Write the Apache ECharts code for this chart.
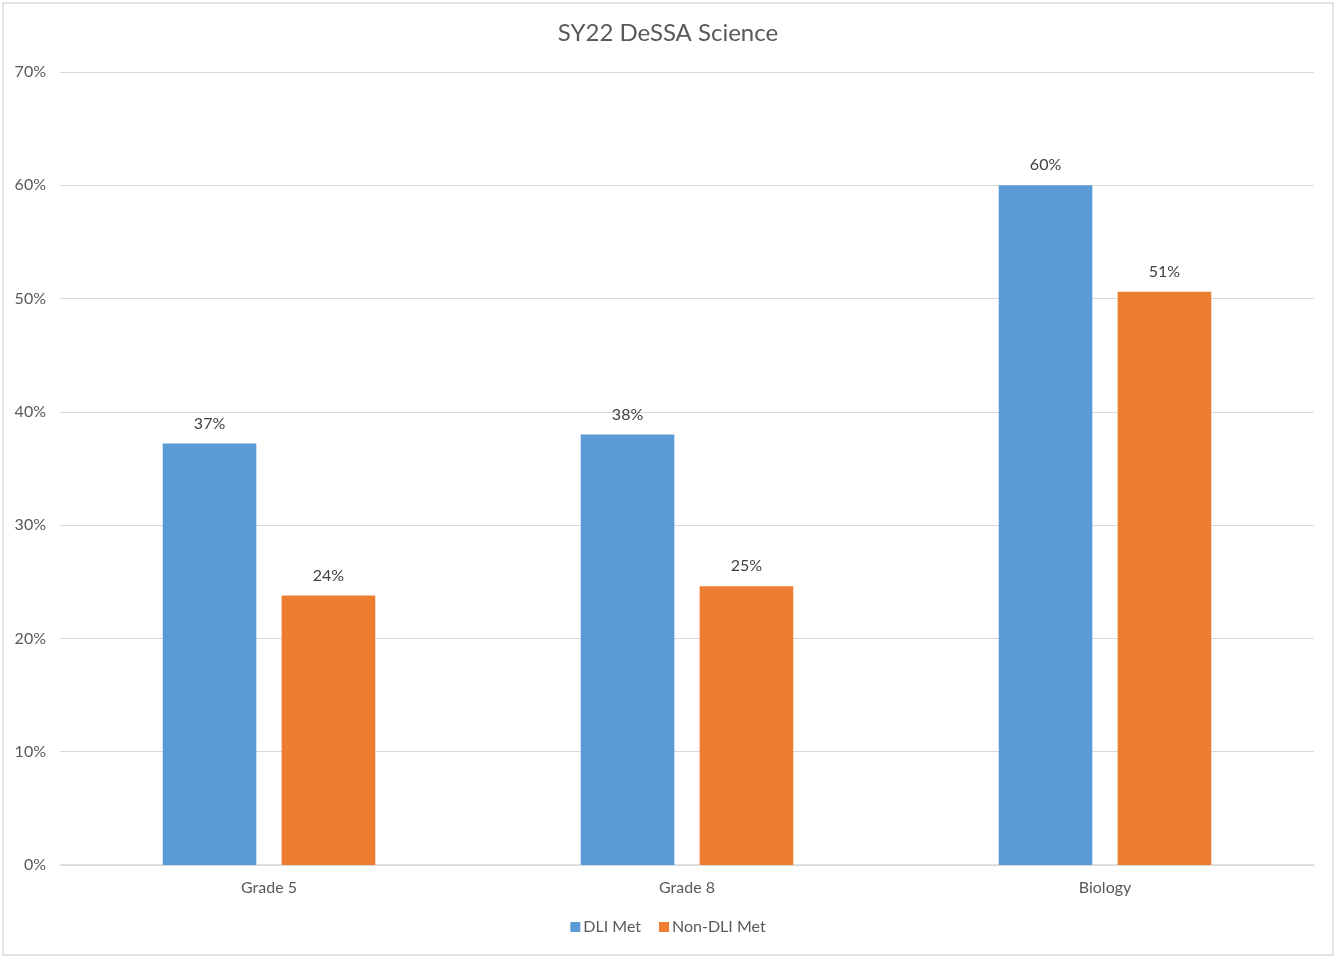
<!DOCTYPE html>
<html>
<head>
<meta charset="utf-8">
<script src="https://cdn.jsdelivr.net/npm/echarts@6/dist/echarts.min.js"></script>
<style>
html,body{margin:0;padding:0;background:#fff;}
#chart{width:1336px;height:958px;}
</style>
</head>
<body>
<div id="chart"></div>
<script>
const categories = ['Grade 5', 'Grade 8', 'Biology'];
const dliMet = [37.2, 38.0, 60.0];
const nonDliMet = [23.8, 24.6, 50.6];
const yTicks = [0, 10, 20, 30, 40, 50, 60, 70];

const FONT = 'Lato, "Open Sans", sans-serif';
const chart = echarts.init(document.getElementById('chart'));
const labelCfg = {
  show: true,
  position: 'top',
  distance: 12,
  color: '#404040',
  fontSize: 16,
  fontFamily: FONT,
  formatter: p => Math.round(p.value) + '%'
};
chart.setOption({
  animation: false,
  backgroundColor: '#fff',
  title: {
    text: 'SY22 DeSSA Science',
    left: 'center',
    top: 16,
    textStyle: { color: '#595959', fontSize: 24, fontWeight: 'normal', fontFamily: FONT }
  },
  graphic: [{
    type: 'rect',
    shape: { x: 3, y: 3, width: 1330, height: 952 },
    style: { fill: 'none', stroke: '#d9d9d9', lineWidth: 1.5 },
    silent: true
  }],
  legend: {
    bottom: 18,
    left: 'center',
    itemWidth: 10,
    itemHeight: 10,
    itemGap: 18,
    icon: 'rect',
    textStyle: { color: '#595959', fontSize: 16, fontFamily: FONT, padding: [0, 0, 0, -2] },
    data: ['DLI Met', 'Non-DLI Met']
  },
  grid: { left: 60, right: 22, top: 72, bottom: 93, containLabel: false },
  xAxis: {
    type: 'category',
    data: categories,
    axisLine: { show: true, lineStyle: { color: '#d9d9d9', width: 1.5 } },
    axisTick: { show: false },
    axisLabel: { color: '#595959', fontSize: 16, fontFamily: FONT, margin: 15 }
  },
  yAxis: {
    type: 'value',
    min: yTicks[0],
    max: yTicks[yTicks.length - 1],
    interval: 10,
    axisLine: { show: false },
    axisTick: { show: false },
    splitLine: { lineStyle: { color: '#d9d9d9', width: 1.2 } },
    axisLabel: { color: '#595959', fontSize: 16, fontFamily: FONT, margin: 14, formatter: v => v + '%' }
  },
  series: [
    {
      name: 'DLI Met',
      type: 'bar',
      data: dliMet,
      barWidth: '22.4%',
      barGap: '27%',
      itemStyle: { color: '#5B9BD5' },
      label: labelCfg
    },
    {
      name: 'Non-DLI Met',
      type: 'bar',
      data: nonDliMet,
      barWidth: '22.4%',
      itemStyle: { color: '#ED7D31' },
      label: labelCfg
    }
  ]
});
</script>
</body>
</html>
